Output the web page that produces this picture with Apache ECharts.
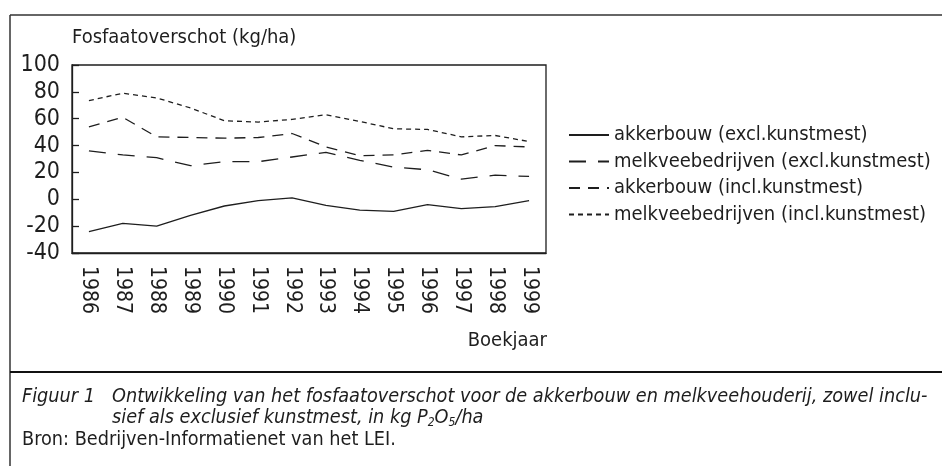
<!DOCTYPE html>
<html>
<head>
<meta charset="utf-8">
<script src="https://cdn.jsdelivr.net/npm/echarts@6/dist/echarts.min.js"></script>
<style>
  html, body { margin: 0; padding: 0; background: #fff; }
  #chart { width: 942px; height: 466px; }
</style>
</head>
<body>
<div id="chart"></div>
<script>
// years on the x axis
const years = ['1986', '1987', '1988', '1989', '1990', '1991', '1992',
               '1993', '1994', '1995', '1996', '1997', '1998', '1999'];
const yTicks = [-40, -20, 0, 20, 40, 60, 80, 100];

// phosphate surplus, kg/ha
const akkerbouwExcl = [-24, -18, -20, -12, -5, -1, 1, -4.5, -8, -9, -4, -7, -5.5, -1];
const melkveeExcl   = [36, 33, 31, 25, 28, 28, 31.5, 35, 29, 24, 22, 15, 18, 17];
const akkerbouwIncl = [54, 61, 46.5, 46, 45.5, 46, 49, 39, 32.5, 33, 36.5, 33, 40, 39];
const melkveeIncl   = [73.5, 79, 75.5, 68, 58.5, 57.5, 59.5, 63, 58, 52.5, 52, 46.5, 47.5, 43];

const seriesNames = [
    'akkerbouw (excl.kunstmest)',
    'melkveebedrijven (excl.kunstmest)',
    'akkerbouw (incl.kunstmest)',
    'melkveebedrijven (incl.kunstmest)'
];

const font = '"DejaVu Sans Condensed", "Liberation Sans", Arial, sans-serif';
const ink = '#1e1e1e';

const chart = echarts.init(document.getElementById('chart'), null, { renderer: 'canvas' });

const mkLine = (name, data, dash) => ({
    name: name,
    type: 'line',
    data: data,
    symbol: 'none',
    animation: false,
    lineStyle: { color: ink, width: 1.3, type: dash },
    itemStyle: { color: ink }
});

const option = {
    backgroundColor: '#fff',
    animation: false,
    textStyle: { fontFamily: font, color: ink },
    grid: {
        left: 72, top: 65, width: 474, height: 188,
        show: true, borderColor: ink, borderWidth: 1.3
    },
    legend: {
        orient: 'vertical',
        left: 563, top: 119,
        itemWidth: 40, itemHeight: 14, itemGap: 4.5,
        itemStyle: { opacity: 0 },
        textStyle: { fontFamily: font, fontSize: 20, color: ink, lineHeight: 22 },
        data: seriesNames
    },
    xAxis: {
        type: 'category',
        data: years,
        boundaryGap: true,
        axisLine: { onZero: false, lineStyle: { color: ink, width: 1.3 } },
        axisTick: { inside: true, length: 6, interval: 0, lineStyle: { color: ink, width: 1.3 } },
        axisLabel: { rotate: -90, interval: 0, margin: 13, fontSize: 21, color: ink, fontFamily: font },
        splitLine: { show: false }
    },
    yAxis: {
        type: 'value',
        min: yTicks[0], max: yTicks[yTicks.length - 1], interval: 20,
        axisLine: { show: true, lineStyle: { color: ink, width: 1.3 } },
        axisTick: { show: true, inside: true, length: 7, lineStyle: { color: ink, width: 1.3 } },
        axisLabel: { margin: 12, fontSize: 23, color: ink, fontFamily: font },
        splitLine: { show: false }
    },
    series: [
        mkLine(seriesNames[0], akkerbouwExcl, 'solid'),
        mkLine(seriesNames[1], melkveeExcl, [17, 12]),
        mkLine(seriesNames[2], akkerbouwIncl, [11, 8]),
        mkLine(seriesNames[3], melkveeIncl, [5, 4])
    ],
    graphic: [
        // frame
        { type: 'line', shape: { x1: 10, y1: 15, x2: 942, y2: 15 }, style: { stroke: '#333', lineWidth: 1.5 } },
        { type: 'line', shape: { x1: 10, y1: 15, x2: 10, y2: 466 }, style: { stroke: '#333', lineWidth: 1.5 } },
        { type: 'line', shape: { x1: 10, y1: 372, x2: 942, y2: 372 }, style: { stroke: '#111', lineWidth: 2 } },
        // axis titles
        { type: 'text', left: 72, top: 28,
          style: { text: 'Fosfaatoverschot (kg/ha)', fontSize: 20, fontFamily: font, fill: ink } },
        { type: 'text', right: 942 - 547, top: 331,
          style: { text: 'Boekjaar', fontSize: 20, fontFamily: font, fill: ink } },
        // caption
        { type: 'text', left: 22, top: 387,
          style: { text: 'Figuur 1', fontSize: 19.7, fontStyle: 'italic', fontFamily: font, fill: ink } },
        { type: 'text', left: 112, top: 387,
          style: { text: 'Ontwikkeling van het fosfaatoverschot voor de akkerbouw en melkveehouderij, zowel inclu-',
                   fontSize: 19.7, fontStyle: 'italic', fontFamily: font, fill: ink } },
        { type: 'text', left: 112, top: 408,
          style: {
              text: 'sief als exclusief kunstmest, in kg P{s|2}O{s|5}/ha',
              fontSize: 19.7, fontStyle: 'italic', fontFamily: font, fill: ink,
              rich: { s: { fontSize: 12, fontStyle: 'italic', fontFamily: font, fill: ink, verticalAlign: 'bottom', padding: [9, 0, 0, 0] } }
          } },
        { type: 'text', left: 22, top: 430,
          style: { text: 'Bron: Bedrijven-Informatienet van het LEI.', fontSize: 19.7, fontFamily: font, fill: ink } }
    ]
};

chart.setOption(option);
</script>
</body>
</html>
